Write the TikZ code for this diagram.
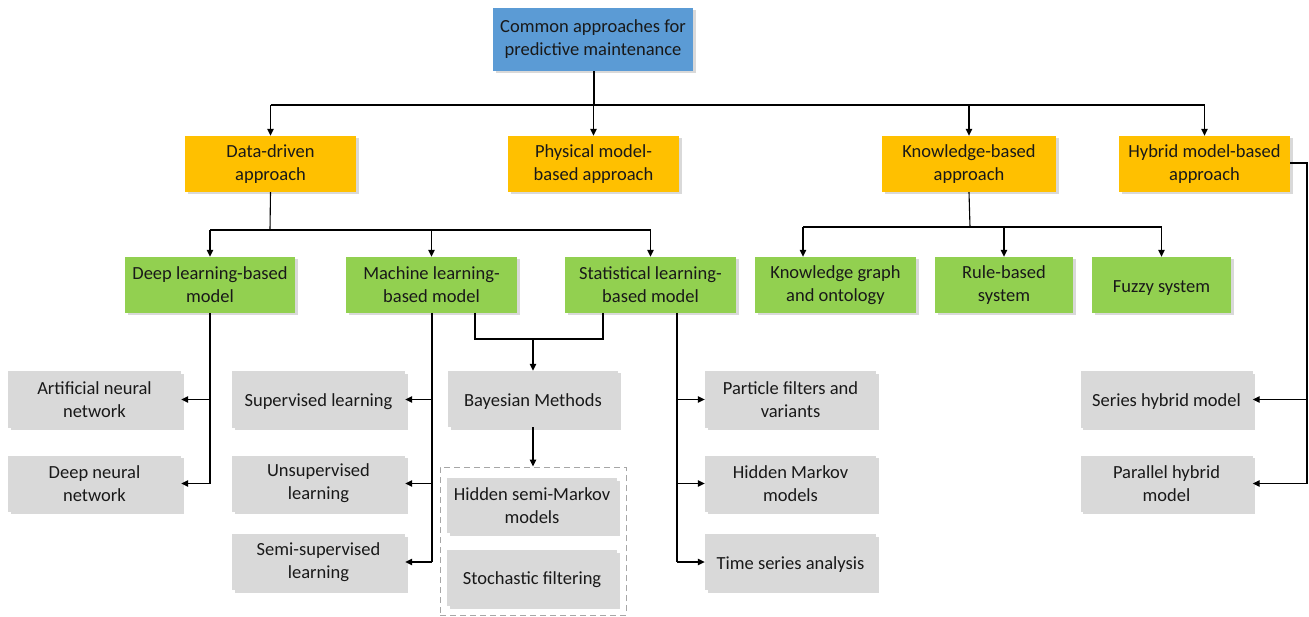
\documentclass[tikz,border=0pt]{standalone}
\usepackage{fontspec}
\setmainfont{Carlito}
\usetikzlibrary{arrows.meta,shadows}
\definecolor{rootBlue}{HTML}{5B9BD5}
\definecolor{catOrange}{HTML}{FFC000}
\definecolor{subGreen}{HTML}{92D050}
\definecolor{leafGray}{HTML}{D9D9D9}
\begin{document}
\begin{tikzpicture}[
    x=1pt, y=-1pt,
    baseBox/.style={align=center, inner sep=2pt, text=black!90,
        font=\fontsize{18.5}{23}\selectfont,
        execute at begin node={\rule{0pt}{17pt}},
        minimum width=171pt, minimum height=56pt,
        drop shadow={shadow xshift=2.5pt, shadow yshift=-2.5pt, opacity=0.3}},
    topBox/.style={baseBox, fill=rootBlue},
    catBox/.style={baseBox, fill=catOrange},
    subBox/.style={baseBox, fill=subGreen},
    leafBox/.style={baseBox, fill=leafGray},
    groupBox/.style={draw=black!35, line width=1pt, dash pattern=on 6pt off 4pt},
    link/.style={line width=1.1pt, black},
    arr/.style={link, -{Triangle[length=7pt,width=6.5pt]}},
]
\useasboundingbox (0,0) rectangle (1309,617);

% root
\node[topBox, minimum width=200pt, minimum height=63pt] (root) at (593,39.5) {Common approaches for\\predictive maintenance};

% approaches
\node[catBox] (dataApp) at (270.5,164) {Data-driven\\approach};
\node[catBox] (physApp) at (593.5,164) {Physical model-\\based approach};
\node[catBox, minimum width=174pt] (knowApp) at (969,164) {Knowledge-based\\approach};
\node[catBox] (hybApp) at (1204.5,164) {Hybrid model-based\\approach};

% models
\node[subBox, minimum width=170pt] (deepModel) at (210,285) {Deep learning-based\\model};
\node[subBox] (mlModel) at (431.5,285) {Machine learning-\\based model};
\node[subBox] (statModel) at (650.5,285) {Statistical learning-\\based model};
\node[subBox, minimum width=161pt] (kgSys) at (835.5,285) {Knowledge graph\\and ontology};
\node[subBox, minimum width=138pt] (ruleSys) at (1004,285) {Rule-based\\system};
\node[subBox, minimum width=139pt] (fuzzySys) at (1161.5,285) {Fuzzy system};

% methods
\node[leafBox, minimum width=173pt] (ann) at (94.5,399.5) {Artificial neural\\network};
\node[leafBox, minimum width=173pt] (dnn) at (94.5,483.5) {Deep neural\\network};
\node[leafBox, minimum width=173pt] (supL) at (318.5,399.5) {Supervised learning};
\node[leafBox, minimum width=173pt] (unsupL) at (318.5,483.5) {Unsupervised\\learning};
\node[leafBox, minimum width=173pt] (semiL) at (318.5,562) {Semi-supervised\\learning};
\node[leafBox, minimum width=170pt] (bayes) at (533,399) {Bayesian Methods};
\node[groupBox, minimum width=186pt, minimum height=148pt] (bayesGroup) at (533,541) {};
\node[leafBox, minimum width=170pt, minimum height=55pt] (hsmm) at (532,505.5) {Hidden semi-Markov\\models};
\node[leafBox, minimum width=170pt] (stochF) at (532,578) {Stochastic filtering};
\node[leafBox] (pf) at (790.5,399.5) {Particle filters and\\variants};
\node[leafBox] (hmm) at (790.5,483.5) {Hidden Markov\\models};
\node[leafBox] (tsa) at (790.5,562) {Time series analysis};
\node[leafBox, minimum width=172pt] (serHyb) at (1166.5,399.5) {Series hybrid model};
\node[leafBox, minimum width=172pt] (parHyb) at (1166.5,483.5) {Parallel hybrid\\model};

% root -> approaches
\coordinate (rootBus) at (594,105);
\draw[link] (root.south -| rootBus) -- (rootBus);
\draw[link] (dataApp |- rootBus) -- (hybApp |- rootBus);
\foreach \n in {dataApp,physApp,knowApp,hybApp}
    \draw[arr] (\n |- rootBus) -- (\n.north);

% data-driven -> models
\coordinate (dataBus) at (270,230);
\draw[link] (dataApp.south) -- (dataBus);
\draw[link] (deepModel |- dataBus) -- (statModel |- dataBus);
\foreach \n in {deepModel,mlModel,statModel}
    \draw[arr] (\n |- dataBus) -- (\n.north);

% knowledge-based -> systems
\coordinate (knowBus) at (970,227);
\coordinate (kgBus) at (803,227);
\draw[link] (knowApp.south) -- (knowBus);
\draw[link] (kgBus) -- (fuzzySys |- knowBus);
\draw[arr] (kgBus) -- (kgBus |- kgSys.north);
\draw[arr] (ruleSys |- knowBus) -- (ruleSys.north);
\draw[arr] (fuzzySys |- knowBus) -- (fuzzySys.north);

% deep learning
\draw[link] (deepModel.south) -- (deepModel.south |- dnn.east);
\foreach \n in {ann,dnn}
    \draw[arr] (deepModel.south |- \n.east) -- (\n.east);

% machine learning
\coordinate (mlLine) at (432,313);
\draw[link] (mlLine) -- (mlLine |- semiL.east);
\foreach \n in {supL,unsupL,semiL}
    \draw[arr] (mlLine |- \n.east) -- (\n.east);

% shared Bayesian branch
\coordinate (mlFoot) at (475,313);
\coordinate (statFoot) at (603,313);
\coordinate (bayesBus) at (533,339);
\draw[link] (mlFoot) -- (mlFoot |- bayesBus) -- (statFoot |- bayesBus) -- (statFoot);
\draw[arr] (bayesBus) -- (bayes.north);
\draw[arr] (bayes.south) -- (bayesGroup.north);

% statistical learning
\coordinate (statLine) at (677,313);
\draw[link] (statLine) -- (statLine |- tsa.west);
\foreach \n in {pf,hmm,tsa}
    \draw[arr] (statLine |- \n.west) -- (\n.west);

% hybrid
\coordinate (hybCorner) at (1307,163);
\draw[link] (hybApp.east |- hybCorner) -- (hybCorner) -- (hybCorner |- parHyb.east);
\foreach \n in {serHyb,parHyb}
    \draw[arr] (hybCorner |- \n.east) -- (\n.east);
\end{tikzpicture}
\end{document}
